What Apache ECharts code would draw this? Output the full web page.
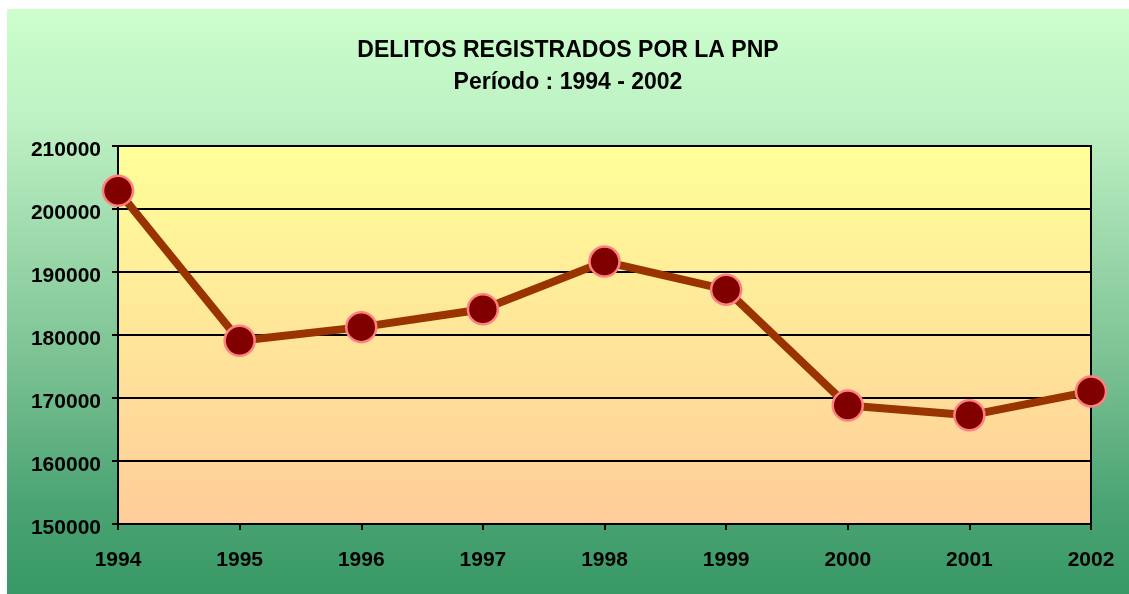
<!DOCTYPE html>
<html>
<head>
<meta charset="utf-8">
<script src="https://cdn.jsdelivr.net/npm/echarts@6/dist/echarts.min.js"></script>
<style>
  html, body { margin: 0; padding: 0; background: #ffffff; }
  #chart { position: absolute; left: 7px; top: 9px; width: 1122px; height: 585px; }
</style>
</head>
<body>
<div id="chart"></div>
<script>
// Delitos registrados por la PNP, 1994 - 2002
const years = ['1994', '1995', '1996', '1997', '1998', '1999', '2000', '2001', '2002'];
const delitos = [202900, 179100, 181250, 184100, 191650, 187200, 168800, 167250, 171050];
const yTicks = { min: 150000, max: 210000, step: 10000 };

const FONT = "'Liberation Sans', Arial, sans-serif";
const chart = echarts.init(document.getElementById('chart'));

chart.setOption({
  backgroundColor: new echarts.graphic.LinearGradient(0, 0, 0, 1, [
    { offset: 0, color: '#ccffcc' },
    { offset: 0.2, color: '#bdf0c3' },
    { offset: 0.6, color: '#7cc293' },
    { offset: 0.85, color: '#4aa373' },
    { offset: 1, color: '#389966' }
  ]),
  animation: false,
  title: {
    text: 'DELITOS REGISTRADOS POR LA PNP\nPeríodo : 1994 - 2002',
    left: 'center',
    top: 21,
    textStyle: { fontFamily: FONT, fontSize: 23, fontWeight: 'bold', color: '#000', lineHeight: 32, align: 'center' }
  },
  grid: {
    show: true,
    left: 111, top: 137, right: 38, bottom: 70,
    backgroundColor: new echarts.graphic.LinearGradient(0, 0, 0, 1, [
      { offset: 0, color: '#ffff99' },
      { offset: 1, color: '#ffcc99' }
    ]),
    borderColor: '#000',
    borderWidth: 2
  },
  xAxis: {
    type: 'category',
    data: years,
    boundaryGap: false,
    axisLine: { lineStyle: { color: '#000', width: 2 } },
    axisTick: { show: true, length: 6, lineStyle: { color: '#000', width: 2 } },
    axisLabel: { fontFamily: FONT, fontSize: 21, fontWeight: 'bold', color: '#000', margin: 26 },
    splitLine: { show: false }
  },
  yAxis: {
    type: 'value',
    min: yTicks.min,
    max: yTicks.max,
    interval: yTicks.step,
    axisLine: { show: true, lineStyle: { color: '#000', width: 2 } },
    axisTick: { show: true, length: 6, lineStyle: { color: '#000', width: 2 } },
    axisLabel: {
      color: '#000', margin: 17,
      formatter: v => '{n|' + v + '}',
      rich: { n: { fontFamily: FONT, fontSize: 21, fontWeight: 'bold', color: '#000', padding: [8, 0, 0, 0] } }
    },
    splitLine: { show: true, lineStyle: { color: '#000', width: 2 } }
  },
  series: [{
    type: 'line',
    data: delitos,
    symbol: 'circle',
    symbolSize: 30,
    lineStyle: { color: '#993300', width: 8 },
    itemStyle: { color: '#800000', borderColor: '#ff8080', borderWidth: 2.5 },
    z: 5
  }]
});
</script>
</body>
</html>
